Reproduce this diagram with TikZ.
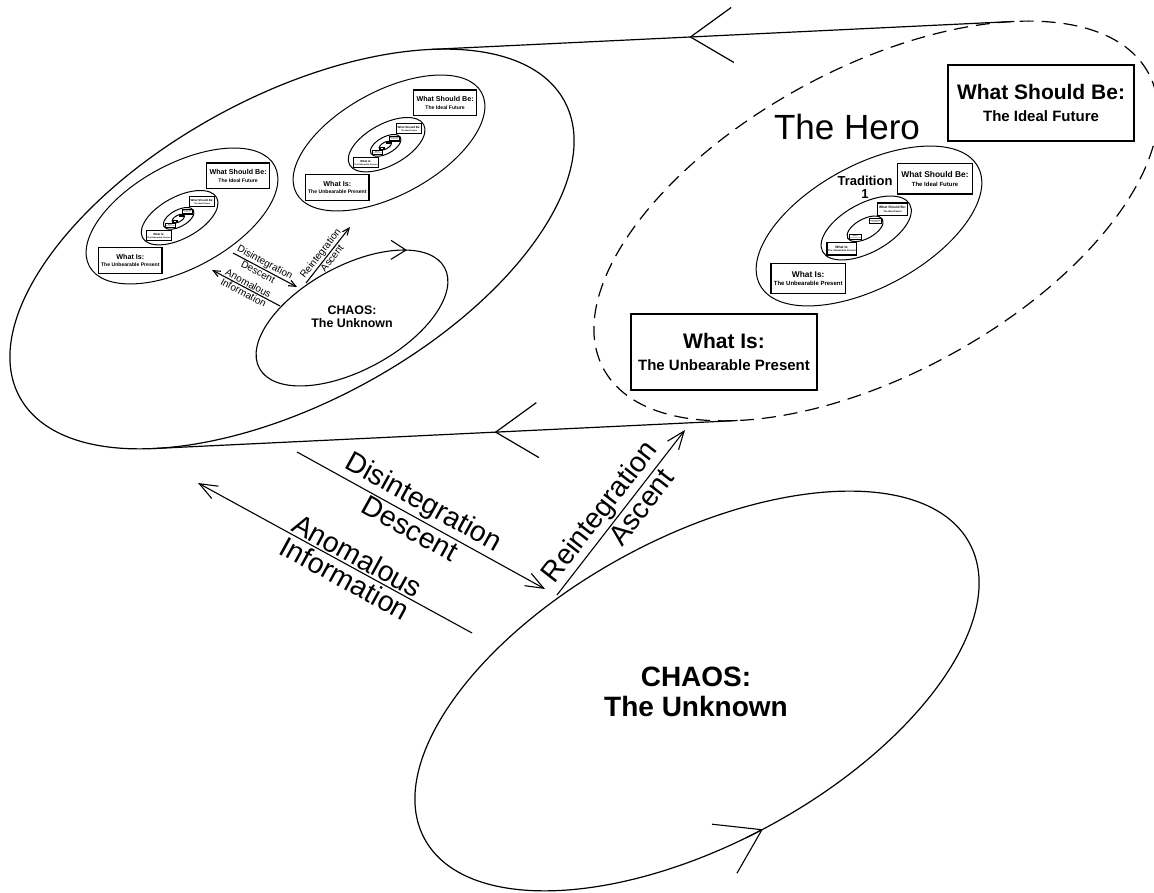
\documentclass[tikz,border=0pt]{standalone}
\usepackage{fontspec}
\setmainfont{Liberation Sans}
\usetikzlibrary{arrows.meta,decorations.markings}

\tikzset{
  tradring/.style={line width=1pt,rotate=28.5},
  wishbox/.style={draw,fill=white,line width=1.2pt,minimum width=186pt,
    minimum height=76pt,inner sep=0pt,align=center,
    font=\bfseries\fontsize{21}{22}\selectfont},
}
\newcommand\sublabel[1]{{\fontsize{15}{15}\selectfont #1}}
% one tradition: its two boxes and the traditions nested in it
\newcommand\tradlevels[2]{%
  \ifnum#2>1
    \begin{scope}[shift={(-7,-5)},scale=.4,transform shape]
      \draw[tradring] (0,0) ellipse [x radius=310,y radius=153];
      \tradlevels{#1i}{\numexpr#2-1\relax}
    \end{scope}
  \fi
  \node[wishbox] (#1-ideal) at (165,118)
    {What Should Be:\\\sublabel{The Ideal Future}};
  \node[wishbox] (#1-present) at (-152,-131)
    {What Is:\\\sublabel{The Unbearable Present}};
}

\begin{document}
\begin{tikzpicture}[x=1pt,y=1pt,line width=1.1pt,
  every node/.style={inner sep=0pt},
  zoomline/.style={line width=1.2pt,postaction={decorate},
    decoration={markings,mark=at position #1 with
      {\arrowreversed{Straight Barb[length=42pt,width=55pt]}}}},
  bigbarb/.style={-{Straight Barb[length=42pt,width=55pt]}},
  bigtip/.style={-{Straight Barb[length=18pt,width=14pt]}},
  smalltip/.style={-{Straight Barb[length=7pt,width=6pt]}},
  arrowlab/.style={font=\fontsize{28.5}{30}\selectfont,sloped,inner sep=2pt},
  smalllab/.style={font=\fontsize{10}{11}\selectfont,sloped,inner sep=1pt},
  chaoslab/.style={align=center,font=\bfseries\fontsize{28}{30}\selectfont}]
\path[use as bounding box] (0,0) rectangle (1154,893);

% the old tradition, seen from afar
\begin{scope}[shift={(292,644)},rotate=28.5]
  \draw[line width=1.2pt] (0,0) ellipse [x radius=310,y radius=153];
  \coordinate (old-top) at (45.6:310 and 153);
  \coordinate (old-bot) at (225.6:310 and 153);
\end{scope}
\begin{scope}[shift={(182,677)},scale=.34,transform shape]
  \draw[tradring] (0,0) ellipse [x radius=310,y radius=153];
  \tradlevels{past}{4}
\end{scope}
\begin{scope}[shift={(389,750)},scale=.34,transform shape]
  \draw[tradring] (0,0) ellipse [x radius=310,y radius=153];
  \tradlevels{next}{4}
\end{scope}
\begin{scope}[shift={(352,575)},scale=.34,rotate=28.5]
  \draw (0,0) ellipse [x radius=310,y radius=153];
  \draw[smalltip,-{Straight Barb[length=15pt,width=19pt]}]
    (43:310 and 153) -- (40:310 and 153);
\end{scope}
\node[align=center,font=\bfseries\fontsize{12.4}{13.5}\selectfont]
  (oldchaos) at (352,576.5) {CHAOS:\\The Unknown};

\draw[smalltip] (233,640) -- node[smalllab,above,pos=.45] (olddis) {Disintegration}
  node[smalllab,below,pos=.43] (olddesc) {Descent} (297,606);
\draw[smalltip] (280,587) -- node[smalllab,above,pos=.5] (oldanom) {Anomalous}
  node[smalllab,below,pos=.5] (oldinfo) {Information} (212,623);
\draw[smalltip] (306,610) -- node[smalllab,above,pos=.45] (oldrein) {Reintegration}
  node[smalllab,below,pos=.5] (oldasc) {Ascent} (350,666);

% the hero
\begin{scope}[shift={(876,672)},rotate=28.5]
  \draw[line width=1.2pt,dash pattern=on 14pt off 8pt]
    (0,0) ellipse [x radius=310,y radius=153];
  \coordinate (hero-top) at (45.6:310 and 153);
  \coordinate (hero-bot) at (225.6:310 and 153);
\end{scope}
\begin{scope}[shift={(876,672)}]
  \tradlevels{hero}{4}
\end{scope}
\node[font=\fontsize{35}{36}\selectfont] (heroname) at (847,766) {The Hero};
\node[align=center,font=\bfseries\fontsize{13}{13}\selectfont]
  (tradname) at (865,705.6) {Tradition\\1};

\draw[zoomline=.4435] (old-top) -- (hero-top);
\draw[zoomline=.584] (old-bot) -- (hero-bot);

% chaos
\begin{scope}[shift={(697,202)},rotate=28.5]
  \draw[line width=1.2pt] (0,0) ellipse [x radius=310,y radius=153];
  \draw[bigbarb] (265:310 and 153) -- (268.5:310 and 153);
\end{scope}
\node[chaoslab] (chaos) at (696,201) {CHAOS:\\The Unknown};

\coordinate (dis-s) at (297,441);
\coordinate (dis-e) at (545,304);
\coordinate (anom-s) at (472,260);
\coordinate (anom-e) at (198,410);
\coordinate (rein-s) at (557,298);
\coordinate (rein-e) at (685,463);
\draw[bigtip] (dis-s) -- node[arrowlab,above,pos=.477] (dis-up) {Disintegration}
  node[arrowlab,below,pos=.48] (dis-dn) {Descent} (dis-e);
\draw[bigtip] (anom-s) -- node[arrowlab,above,pos=.44] (anom-up) {Anomalous}
  node[arrowlab,below,pos=.44] (anom-dn) {Information} (anom-e);
\draw[bigtip] (rein-s) -- node[arrowlab,above,pos=.44] (rein-up) {Reintegration}
  node[arrowlab,below,pos=.58] (rein-dn) {Ascent} (rein-e);
\end{tikzpicture}
\end{document}
